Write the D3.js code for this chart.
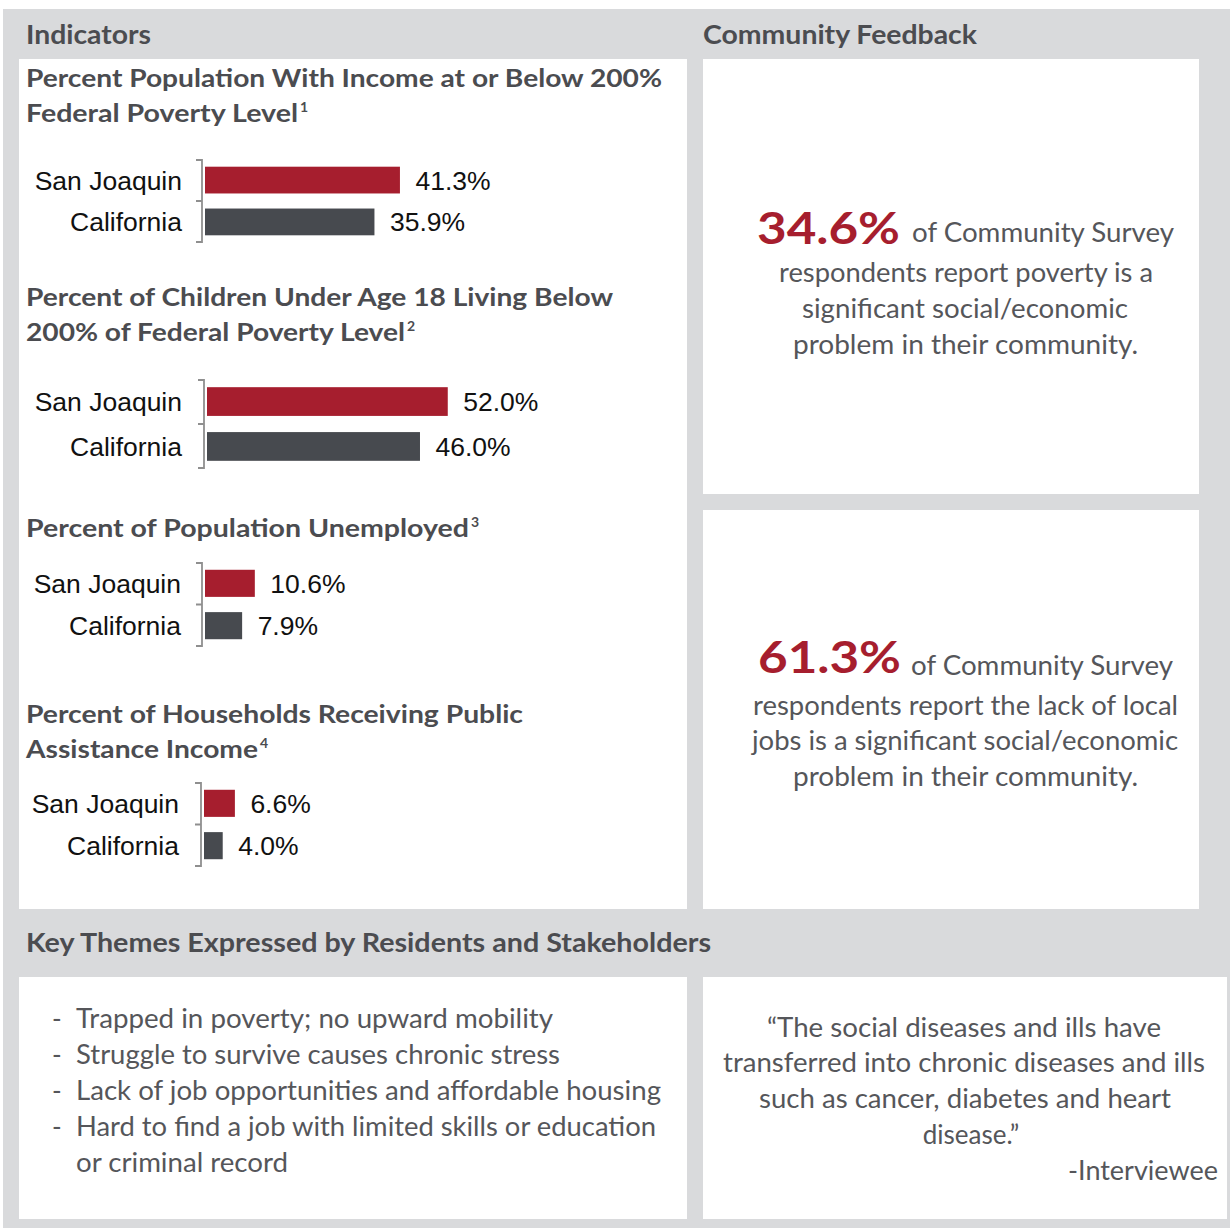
<!DOCTYPE html>
<html><head><meta charset="utf-8">
<script src="https://cdn.jsdelivr.net/npm/d3@7"></script>
<style>body{margin:0;background:#fff}svg{display:block}</style>
</head><body>
<svg id="c" width="1230" height="1228"></svg>
<script>
// ---------- data ----------
const categories = ["San Joaquin", "California"];
const povertyValues = [41.3, 35.9];
const childPovertyValues = [52.0, 46.0];
const unemploymentValues = [10.6, 7.9];
const publicAssistanceValues = [6.6, 4.0];
const chartTitles = [
  ["Percent Population With Income at or Below 200%", "Federal Poverty Level"],
  ["Percent of Children Under Age 18 Living Below", "200% of Federal Poverty Level"],
  ["Percent of Population Unemployed"],
  ["Percent of Households Receiving Public", "Assistance Income"]
];
const footnotes = ["1", "2", "3", "4"];
const surveyStats = ["34.6%", "61.3%"];
const surveyLines = [
  ["respondents report poverty is a", "significant social/economic", "problem in their community."],
  ["respondents report the lack of local", "jobs is a significant social/economic", "problem in their community."]
];
const themes = ["Trapped in poverty; no upward mobility", "Struggle to survive causes chronic stress",
  "Lack of job opportunities and affordable housing", "Hard to find a job with limited skills or education", "or criminal record"];
const quoteLines = ["\u201CThe social diseases and ills have", "transferred into chronic diseases and ills",
  "such as cancer, diabetes and heart", "disease.\u201D"];

// ---------- style / layout ----------
const GRAY = "#d9dadc", RED = "#a61e2e", DARK = "#474a4f", HEAD = "#4b4c50", BODY = "#55565a";
const SANS = "Lato, 'Open Sans', sans-serif";
const svg = d3.select("#c");

function txt(str, x, y, o = {}) {
  const t = svg.append("text").attr("x", x).attr("y", y)
    .attr("font-family", o.family || SANS).attr("font-size", o.size || 26)
    .attr("font-weight", o.weight || 400).attr("fill", o.fill || BODY)
    .attr("text-anchor", o.anchor || "start").text(str);
  if (o.len) t.attr("textLength", o.len).attr("lengthAdjust", "spacingAndGlyphs");
  return t;
}

// panels
svg.append("rect").attr("x", 3).attr("y", 9).attr("width", 1227).attr("height", 1219).attr("fill", GRAY);
[[19, 59, 668, 850], [703, 59, 496, 435], [703, 510, 496, 399], [19, 977, 668, 242], [703, 977, 524, 242]]
  .forEach(r => svg.append("rect").attr("x", r[0]).attr("y", r[1]).attr("width", r[2]).attr("height", r[3]).attr("fill", "#fff"));

// headers
txt("Indicators", 26, 44, {weight: 700, fill: HEAD, len: 125});
txt("Community Feedback", 703, 44, {weight: 700, fill: HEAD, len: 274});
txt("Key Themes Expressed by Residents and Stakeholders", 26, 952, {weight: 700, fill: HEAD, len: 685});

// ---------- bar charts ----------
const charts = [
  {values: povertyValues, axisX: 202, top: 160, bottom: 242, px: 4.72, labelX: 182,
   titleY: [87, 122], titleLen: [636, 272], supX: 300},
  {values: childPovertyValues, axisX: 204, top: 380, bottom: 468, px: 4.63, labelX: 182,
   titleY: [306, 341], titleLen: [587, 379], supX: 407},
  {values: unemploymentValues, axisX: 202, top: 563, bottom: 646, px: 4.70, labelX: 181,
   titleY: [537], titleLen: [443], supX: 471},
  {values: publicAssistanceValues, axisX: 201, top: 783, bottom: 866, px: 4.68, labelX: 179,
   titleY: [723, 758], titleLen: [497, 232], supX: 260}
];
const fmt = d => d3.format(".1f")(d) + "%";

charts.forEach((c, i) => {
  chartTitles[i].forEach((line, j) =>
    txt(line, 26, c.titleY[j], {size: 25, weight: 700, fill: HEAD, len: c.titleLen[j]}));
  const lastY = c.titleY[c.titleY.length - 1];
  txt(footnotes[i], c.supX, lastY - 10, {size: 14, weight: 700, fill: HEAD});

  const x0 = c.axisX + 3;
  const x = d3.scaleLinear().domain([0, 100]).range([x0, x0 + c.px * 100]);
  const y = d3.scaleBand().domain(categories).range([c.top, c.bottom]).paddingInner(0.36).paddingOuter(0.16);
  const g = svg.append("g");
  const data = categories.map((k, j) => ({k, v: c.values[j]}));

  g.selectAll("rect").data(data).join("rect")
    .attr("x", x(0)).attr("y", d => y(d.k))
    .attr("width", d => x(d.v) - x(0)).attr("height", y.bandwidth())
    .attr("fill", (d, j) => j === 0 ? RED : DARK);

  // bracket axis
  const [r0, r1] = y.range(), mid = (r0 + r1) / 2;
  g.append("path")
    .attr("d", `M${c.axisX - 6},${r0}H${c.axisX}V${r1}H${c.axisX - 6}M${c.axisX - 6},${mid}H${c.axisX}`)
    .attr("fill", "none").attr("stroke", "#8f8f8f").attr("stroke-width", 1.8);

  g.selectAll(".cat").data(data).join("text")
    .attr("x", c.labelX).attr("y", d => y(d.k) + y.bandwidth() / 2).attr("dy", "0.36em")
    .attr("text-anchor", "end").attr("font-family", "'Liberation Sans', Arial, sans-serif")
    .attr("font-size", 26.5).attr("fill", "#111").text(d => d.k);

  g.selectAll(".val").data(data).join("text")
    .attr("x", d => x(d.v) + 15.5).attr("y", d => y(d.k) + y.bandwidth() / 2).attr("dy", "0.36em")
    .attr("font-family", "'Liberation Sans', Arial, sans-serif")
    .attr("font-size", 26.5).attr("fill", "#111").text(d => fmt(d.v));
});

// ---------- community feedback ----------
const fb = [
  {statX: 757, statY: 244, ofX: 912, ofY: 242,
   lines: [[779, 282, 374], [802, 318, 326], [793, 354, 345]]},
  {statX: 758, statY: 673, ofX: 911, ofY: 675,
   lines: [[753, 715, 425], [752, 750, 426], [793, 786, 345]]}
];
fb.forEach((f, i) => {
  txt(surveyStats[i], f.statX, f.statY, {size: 44, weight: 700, fill: RED, len: 143});
  txt("of Community Survey", f.ofX, f.ofY, {len: 262});
  surveyLines[i].forEach((l, j) => txt(l, f.lines[j][0], f.lines[j][1], {len: f.lines[j][2]}));
});

// ---------- themes ----------
const themeLayout = [[1028, 477, true], [1064, 484, true], [1100, 585, true], [1136, 580, true], [1172, 212, false]];
themes.forEach((t, i) => {
  const [yy, len, dash] = themeLayout[i];
  if (dash) txt("-", 52, yy);
  txt(t, 76, yy, {len});
});

// ---------- quote ----------
const quoteLayout = [[767, 1037, 394], [723, 1072, 482], [759, 1108, 412]];
quoteLines.slice(0, 3).forEach((q, i) => txt(q, quoteLayout[i][0], quoteLayout[i][1], {len: quoteLayout[i][2]}));
txt(quoteLines[3], 971, 1144, {anchor: "middle"});
txt("-Interviewee", 1068, 1180, {len: 150});
</script>
</body></html>
